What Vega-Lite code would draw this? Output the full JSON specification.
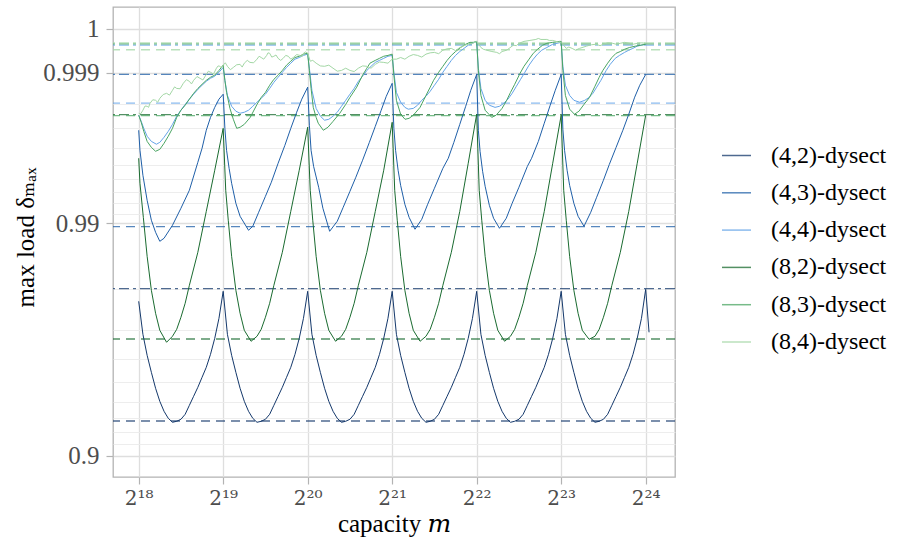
{
"$schema": "https://vega.github.io/schema/vega-lite/v6.json",
"width": 562, "height": 470,
"autosize": {"type": "none"},
"padding": {"left": 113, "top": 7, "right": 232, "bottom": 66},
"background": "white",
"config": {"font": "'Liberation Serif', 'DejaVu Serif'", "view": {"stroke": "#b3b3b3", "strokeWidth": 1.3}},
"datasets": {
"refs": [
{"series":"(4,2)-dysect","kind":"min","load":0.92782},{"series":"(4,2)-dysect","kind":"max","load":0.98009},
{"series":"(4,3)-dysect","kind":"min","load":0.98962},{"series":"(4,3)-dysect","kind":"max","load":0.99895},
{"series":"(4,4)-dysect","kind":"min","load":0.99803},{"series":"(4,4)-dysect","kind":"max","load":0.99967},
{"series":"(8,2)-dysect","kind":"min","load":0.96714},{"series":"(8,2)-dysect","kind":"max","load":0.99758},
{"series":"(8,3)-dysect","kind":"min","load":0.99754},{"series":"(8,3)-dysect","kind":"max","load":0.99970},
{"series":"(8,4)-dysect","kind":"min","load":0.99957},{"series":"(8,4)-dysect","kind":"max","load":0.99972}
],
"curves": [
{"series":"(4,2)-dysect","log2m":18,"load":0.97736},{"series":"(4,2)-dysect","log2m":18.05,"load":0.96861},{"series":"(4,2)-dysect","log2m":18.1,"load":0.96149},{"series":"(4,2)-dysect","log2m":18.15,"load":0.95462},{"series":"(4,2)-dysect","log2m":18.2,"load":0.94711},{"series":"(4,2)-dysect","log2m":18.25,"load":0.94012},{"series":"(4,2)-dysect","log2m":18.3,"load":0.93416},{"series":"(4,2)-dysect","log2m":18.35,"load":0.92965},{"series":"(4,2)-dysect","log2m":18.4,"load":0.92693},{"series":"(4,2)-dysect","log2m":18.45,"load":0.92763},{"series":"(4,2)-dysect","log2m":18.5,"load":0.92898},{"series":"(4,2)-dysect","log2m":18.55,"load":0.93226},{"series":"(4,2)-dysect","log2m":18.6,"load":0.9378},{"series":"(4,2)-dysect","log2m":18.65,"load":0.94291},{"series":"(4,2)-dysect","log2m":18.7,"load":0.94761},{"series":"(4,2)-dysect","log2m":18.75,"load":0.95239},{"series":"(4,2)-dysect","log2m":18.8,"load":0.95676},{"series":"(4,2)-dysect","log2m":18.85,"load":0.96186},{"series":"(4,2)-dysect","log2m":18.9,"load":0.96736},{"series":"(4,2)-dysect","log2m":18.95,"load":0.97318},
{"series":"(4,2)-dysect","log2m":19,"load":0.97953},{"series":"(4,2)-dysect","log2m":19.05,"load":0.96861},{"series":"(4,2)-dysect","log2m":19.1,"load":0.96149},{"series":"(4,2)-dysect","log2m":19.15,"load":0.95462},{"series":"(4,2)-dysect","log2m":19.2,"load":0.94711},{"series":"(4,2)-dysect","log2m":19.25,"load":0.94012},{"series":"(4,2)-dysect","log2m":19.3,"load":0.93416},{"series":"(4,2)-dysect","log2m":19.35,"load":0.92965},{"series":"(4,2)-dysect","log2m":19.4,"load":0.92693},{"series":"(4,2)-dysect","log2m":19.45,"load":0.92763},{"series":"(4,2)-dysect","log2m":19.5,"load":0.92898},{"series":"(4,2)-dysect","log2m":19.55,"load":0.93226},{"series":"(4,2)-dysect","log2m":19.6,"load":0.9378},{"series":"(4,2)-dysect","log2m":19.65,"load":0.94291},{"series":"(4,2)-dysect","log2m":19.7,"load":0.94761},{"series":"(4,2)-dysect","log2m":19.75,"load":0.95239},{"series":"(4,2)-dysect","log2m":19.8,"load":0.95676},{"series":"(4,2)-dysect","log2m":19.85,"load":0.96186},{"series":"(4,2)-dysect","log2m":19.9,"load":0.96736},{"series":"(4,2)-dysect","log2m":19.95,"load":0.97318},
{"series":"(4,2)-dysect","log2m":20,"load":0.97953},{"series":"(4,2)-dysect","log2m":20.05,"load":0.96861},{"series":"(4,2)-dysect","log2m":20.1,"load":0.96149},{"series":"(4,2)-dysect","log2m":20.15,"load":0.95462},{"series":"(4,2)-dysect","log2m":20.2,"load":0.94711},{"series":"(4,2)-dysect","log2m":20.25,"load":0.94012},{"series":"(4,2)-dysect","log2m":20.3,"load":0.93416},{"series":"(4,2)-dysect","log2m":20.35,"load":0.92965},{"series":"(4,2)-dysect","log2m":20.4,"load":0.92693},{"series":"(4,2)-dysect","log2m":20.45,"load":0.92763},{"series":"(4,2)-dysect","log2m":20.5,"load":0.92898},{"series":"(4,2)-dysect","log2m":20.55,"load":0.93226},{"series":"(4,2)-dysect","log2m":20.6,"load":0.9378},{"series":"(4,2)-dysect","log2m":20.65,"load":0.94291},{"series":"(4,2)-dysect","log2m":20.7,"load":0.94761},{"series":"(4,2)-dysect","log2m":20.75,"load":0.95239},{"series":"(4,2)-dysect","log2m":20.8,"load":0.95676},{"series":"(4,2)-dysect","log2m":20.85,"load":0.96186},{"series":"(4,2)-dysect","log2m":20.9,"load":0.96736},{"series":"(4,2)-dysect","log2m":20.95,"load":0.97318},
{"series":"(4,2)-dysect","log2m":21,"load":0.97953},{"series":"(4,2)-dysect","log2m":21.05,"load":0.96861},{"series":"(4,2)-dysect","log2m":21.1,"load":0.96149},{"series":"(4,2)-dysect","log2m":21.15,"load":0.95462},{"series":"(4,2)-dysect","log2m":21.2,"load":0.94711},{"series":"(4,2)-dysect","log2m":21.25,"load":0.94012},{"series":"(4,2)-dysect","log2m":21.3,"load":0.93416},{"series":"(4,2)-dysect","log2m":21.35,"load":0.92965},{"series":"(4,2)-dysect","log2m":21.4,"load":0.92693},{"series":"(4,2)-dysect","log2m":21.45,"load":0.92763},{"series":"(4,2)-dysect","log2m":21.5,"load":0.92898},{"series":"(4,2)-dysect","log2m":21.55,"load":0.93226},{"series":"(4,2)-dysect","log2m":21.6,"load":0.9378},{"series":"(4,2)-dysect","log2m":21.65,"load":0.94291},{"series":"(4,2)-dysect","log2m":21.7,"load":0.94761},{"series":"(4,2)-dysect","log2m":21.75,"load":0.95239},{"series":"(4,2)-dysect","log2m":21.8,"load":0.95676},{"series":"(4,2)-dysect","log2m":21.85,"load":0.96186},{"series":"(4,2)-dysect","log2m":21.9,"load":0.96736},{"series":"(4,2)-dysect","log2m":21.95,"load":0.97318},
{"series":"(4,2)-dysect","log2m":22,"load":0.97953},{"series":"(4,2)-dysect","log2m":22.05,"load":0.96861},{"series":"(4,2)-dysect","log2m":22.1,"load":0.96149},{"series":"(4,2)-dysect","log2m":22.15,"load":0.95462},{"series":"(4,2)-dysect","log2m":22.2,"load":0.94711},{"series":"(4,2)-dysect","log2m":22.25,"load":0.94012},{"series":"(4,2)-dysect","log2m":22.3,"load":0.93416},{"series":"(4,2)-dysect","log2m":22.35,"load":0.92965},{"series":"(4,2)-dysect","log2m":22.4,"load":0.92693},{"series":"(4,2)-dysect","log2m":22.45,"load":0.92763},{"series":"(4,2)-dysect","log2m":22.5,"load":0.92898},{"series":"(4,2)-dysect","log2m":22.55,"load":0.93226},{"series":"(4,2)-dysect","log2m":22.6,"load":0.9378},{"series":"(4,2)-dysect","log2m":22.65,"load":0.94291},{"series":"(4,2)-dysect","log2m":22.7,"load":0.94761},{"series":"(4,2)-dysect","log2m":22.75,"load":0.95239},{"series":"(4,2)-dysect","log2m":22.8,"load":0.95676},{"series":"(4,2)-dysect","log2m":22.85,"load":0.96186},{"series":"(4,2)-dysect","log2m":22.9,"load":0.96736},{"series":"(4,2)-dysect","log2m":22.95,"load":0.97318},
{"series":"(4,2)-dysect","log2m":23,"load":0.97953},{"series":"(4,2)-dysect","log2m":23.05,"load":0.96861},{"series":"(4,2)-dysect","log2m":23.1,"load":0.96149},{"series":"(4,2)-dysect","log2m":23.15,"load":0.95462},{"series":"(4,2)-dysect","log2m":23.2,"load":0.94711},{"series":"(4,2)-dysect","log2m":23.25,"load":0.94012},{"series":"(4,2)-dysect","log2m":23.3,"load":0.93416},{"series":"(4,2)-dysect","log2m":23.35,"load":0.92965},{"series":"(4,2)-dysect","log2m":23.4,"load":0.92693},{"series":"(4,2)-dysect","log2m":23.45,"load":0.92763},{"series":"(4,2)-dysect","log2m":23.5,"load":0.92898},{"series":"(4,2)-dysect","log2m":23.55,"load":0.93226},{"series":"(4,2)-dysect","log2m":23.6,"load":0.9378},{"series":"(4,2)-dysect","log2m":23.65,"load":0.94291},{"series":"(4,2)-dysect","log2m":23.7,"load":0.94761},{"series":"(4,2)-dysect","log2m":23.75,"load":0.95239},{"series":"(4,2)-dysect","log2m":23.8,"load":0.95676},{"series":"(4,2)-dysect","log2m":23.85,"load":0.96186},{"series":"(4,2)-dysect","log2m":23.9,"load":0.96736},{"series":"(4,2)-dysect","log2m":23.95,"load":0.97318},
{"series":"(4,2)-dysect","log2m":24,"load":0.97994},{"series":"(4,2)-dysect","log2m":24.04,"load":0.96922},

{"series":"(4,3)-dysect","log2m":18,"load":0.9969},{"series":"(4,3)-dysect","log2m":18.015,"load":0.99587},{"series":"(4,3)-dysect","log2m":18.05,"load":0.99428},{"series":"(4,3)-dysect","log2m":18.1,"load":0.99228},{"series":"(4,3)-dysect","log2m":18.15,"load":0.99032},{"series":"(4,3)-dysect","log2m":18.2,"load":0.98895},{"series":"(4,3)-dysect","log2m":18.25,"load":0.98782},{"series":"(4,3)-dysect","log2m":18.3,"load":0.98821},{"series":"(4,3)-dysect","log2m":18.4,"load":0.98977},{"series":"(4,3)-dysect","log2m":18.5,"load":0.99154},{"series":"(4,3)-dysect","log2m":18.6,"load":0.99314},{"series":"(4,3)-dysect","log2m":18.7,"load":0.99515},{"series":"(4,3)-dysect","log2m":18.75,"load":0.99598},{"series":"(4,3)-dysect","log2m":18.8,"load":0.9969},{"series":"(4,3)-dysect","log2m":18.85,"load":0.99747},{"series":"(4,3)-dysect","log2m":18.9,"load":0.99787},{"series":"(4,3)-dysect","log2m":18.95,"load":0.99817},{"series":"(4,3)-dysect","log2m":19,"load":0.99834},
{"series":"(4,3)-dysect","log2m":19.02,"load":0.99699},{"series":"(4,3)-dysect","log2m":19.04,"load":0.99587},{"series":"(4,3)-dysect","log2m":19.07,"load":0.99476},{"series":"(4,3)-dysect","log2m":19.1,"load":0.99369},{"series":"(4,3)-dysect","log2m":19.15,"load":0.99201},{"series":"(4,3)-dysect","log2m":19.2,"load":0.99074},{"series":"(4,3)-dysect","log2m":19.3,"load":0.98919},{"series":"(4,3)-dysect","log2m":19.35,"load":0.98965},{"series":"(4,3)-dysect","log2m":19.42,"load":0.99115},{"series":"(4,3)-dysect","log2m":19.5,"load":0.99263},{"series":"(4,3)-dysect","log2m":19.57,"load":0.99377},{"series":"(4,3)-dysect","log2m":19.65,"load":0.99509},{"series":"(4,3)-dysect","log2m":19.73,"load":0.99614},{"series":"(4,3)-dysect","log2m":19.8,"load":0.99699},{"series":"(4,3)-dysect","log2m":19.87,"load":0.99768},{"series":"(4,3)-dysect","log2m":19.93,"load":0.99817},{"series":"(4,3)-dysect","log2m":20,"load":0.99857},
{"series":"(4,3)-dysect","log2m":20.02,"load":0.99713},{"series":"(4,3)-dysect","log2m":20.04,"load":0.99587},{"series":"(4,3)-dysect","log2m":20.07,"load":0.99489},{"series":"(4,3)-dysect","log2m":20.13,"load":0.99338},{"series":"(4,3)-dysect","log2m":20.18,"load":0.99154},{"series":"(4,3)-dysect","log2m":20.26,"load":0.98907},{"series":"(4,3)-dysect","log2m":20.35,"load":0.99021},{"series":"(4,3)-dysect","log2m":20.42,"load":0.99163},{"series":"(4,3)-dysect","log2m":20.5,"load":0.99305},{"series":"(4,3)-dysect","log2m":20.57,"load":0.99414},{"series":"(4,3)-dysect","log2m":20.65,"load":0.99528},{"series":"(4,3)-dysect","log2m":20.73,"load":0.9963},{"series":"(4,3)-dysect","log2m":20.8,"load":0.99708},{"series":"(4,3)-dysect","log2m":20.87,"load":0.99776},{"series":"(4,3)-dysect","log2m":20.93,"load":0.99827},{"series":"(4,3)-dysect","log2m":21,"load":0.99869},
{"series":"(4,3)-dysect","log2m":21.02,"load":0.99699},{"series":"(4,3)-dysect","log2m":21.04,"load":0.99587},{"series":"(4,3)-dysect","log2m":21.07,"load":0.99463},{"series":"(4,3)-dysect","log2m":21.1,"load":0.99353},{"series":"(4,3)-dysect","log2m":21.15,"load":0.99192},{"series":"(4,3)-dysect","log2m":21.2,"load":0.99063},{"series":"(4,3)-dysect","log2m":21.27,"load":0.98931},{"series":"(4,3)-dysect","log2m":21.35,"load":0.99042},{"series":"(4,3)-dysect","log2m":21.42,"load":0.99192},{"series":"(4,3)-dysect","log2m":21.5,"load":0.9933},{"series":"(4,3)-dysect","log2m":21.6,"load":0.99476},{"series":"(4,3)-dysect","log2m":21.664,"load":0.9954},{"series":"(4,3)-dysect","log2m":21.73,"load":0.9963},{"series":"(4,3)-dysect","log2m":21.8,"load":0.99717},{"series":"(4,3)-dysect","log2m":21.87,"load":0.99791},{"series":"(4,3)-dysect","log2m":21.93,"load":0.99847},{"series":"(4,3)-dysect","log2m":22,"load":0.99895},
{"series":"(4,3)-dysect","log2m":22.02,"load":0.9969},{"series":"(4,3)-dysect","log2m":22.04,"load":0.99581},{"series":"(4,3)-dysect","log2m":22.07,"load":0.99456},{"series":"(4,3)-dysect","log2m":22.1,"load":0.99346},{"series":"(4,3)-dysect","log2m":22.15,"load":0.99182},{"series":"(4,3)-dysect","log2m":22.2,"load":0.99053},{"series":"(4,3)-dysect","log2m":22.27,"load":0.98942},{"series":"(4,3)-dysect","log2m":22.35,"load":0.99053},{"series":"(4,3)-dysect","log2m":22.42,"load":0.99201},{"series":"(4,3)-dysect","log2m":22.5,"load":0.99338},{"series":"(4,3)-dysect","log2m":22.6,"load":0.99489},{"series":"(4,3)-dysect","log2m":22.65,"load":0.9954},{"series":"(4,3)-dysect","log2m":22.73,"load":0.99635},{"series":"(4,3)-dysect","log2m":22.8,"load":0.99722},{"series":"(4,3)-dysect","log2m":22.87,"load":0.99795},{"series":"(4,3)-dysect","log2m":22.93,"load":0.99847},{"series":"(4,3)-dysect","log2m":23,"load":0.99895},
{"series":"(4,3)-dysect","log2m":23.02,"load":0.99695},{"series":"(4,3)-dysect","log2m":23.04,"load":0.99587},{"series":"(4,3)-dysect","log2m":23.07,"load":0.99463},{"series":"(4,3)-dysect","log2m":23.1,"load":0.99353},{"series":"(4,3)-dysect","log2m":23.15,"load":0.99201},{"series":"(4,3)-dysect","log2m":23.2,"load":0.99074},{"series":"(4,3)-dysect","log2m":23.27,"load":0.98965},{"series":"(4,3)-dysect","log2m":23.35,"load":0.99115},{"series":"(4,3)-dysect","log2m":23.42,"load":0.99255},{"series":"(4,3)-dysect","log2m":23.5,"load":0.99392},{"series":"(4,3)-dysect","log2m":23.57,"load":0.99502},{"series":"(4,3)-dysect","log2m":23.65,"load":0.99603},{"series":"(4,3)-dysect","log2m":23.73,"load":0.9969},{"series":"(4,3)-dysect","log2m":23.8,"load":0.9976},{"series":"(4,3)-dysect","log2m":23.87,"load":0.99824},{"series":"(4,3)-dysect","log2m":23.93,"load":0.99863},{"series":"(4,3)-dysect","log2m":24,"load":0.99895},

{"series":"(4,4)-dysect","log2m":18,"load":0.99756},{"series":"(4,4)-dysect","log2m":18.03,"load":0.9973},{"series":"(4,4)-dysect","log2m":18.06,"load":0.99699},{"series":"(4,4)-dysect","log2m":18.1,"load":0.99661},{"series":"(4,4)-dysect","log2m":18.15,"load":0.99635},{"series":"(4,4)-dysect","log2m":18.21,"load":0.9962},{"series":"(4,4)-dysect","log2m":18.25,"load":0.9963},{"series":"(4,4)-dysect","log2m":18.3,"load":0.99656},{"series":"(4,4)-dysect","log2m":18.35,"load":0.99685},{"series":"(4,4)-dysect","log2m":18.4,"load":0.99717},{"series":"(4,4)-dysect","log2m":18.45,"load":0.99752},{"series":"(4,4)-dysect","log2m":18.5,"load":0.99776},{"series":"(4,4)-dysect","log2m":18.55,"load":0.99798},{"series":"(4,4)-dysect","log2m":18.6,"load":0.99817},{"series":"(4,4)-dysect","log2m":18.65,"load":0.99834},{"series":"(4,4)-dysect","log2m":18.7,"load":0.9985},{"series":"(4,4)-dysect","log2m":18.75,"load":0.99863},{"series":"(4,4)-dysect","log2m":18.8,"load":0.99875},{"series":"(4,4)-dysect","log2m":18.85,"load":0.99884},{"series":"(4,4)-dysect","log2m":18.9,"load":0.9989},{"series":"(4,4)-dysect","log2m":18.95,"load":0.99901},{"series":"(4,4)-dysect","log2m":19,"load":0.99914},
{"series":"(4,4)-dysect","log2m":19.02,"load":0.99878},{"series":"(4,4)-dysect","log2m":19.05,"load":0.9983},{"series":"(4,4)-dysect","log2m":19.1,"load":0.99791},{"series":"(4,4)-dysect","log2m":19.15,"load":0.99772},{"series":"(4,4)-dysect","log2m":19.2,"load":0.99764},{"series":"(4,4)-dysect","log2m":19.25,"load":0.99768},{"series":"(4,4)-dysect","log2m":19.3,"load":0.99776},{"series":"(4,4)-dysect","log2m":19.35,"load":0.99791},{"series":"(4,4)-dysect","log2m":19.4,"load":0.99806},{"series":"(4,4)-dysect","log2m":19.45,"load":0.9982},{"series":"(4,4)-dysect","log2m":19.5,"load":0.99834},{"series":"(4,4)-dysect","log2m":19.55,"load":0.99853},{"series":"(4,4)-dysect","log2m":19.6,"load":0.99872},{"series":"(4,4)-dysect","log2m":19.65,"load":0.99887},{"series":"(4,4)-dysect","log2m":19.7,"load":0.99901},{"series":"(4,4)-dysect","log2m":19.75,"load":0.99914},{"series":"(4,4)-dysect","log2m":19.8,"load":0.99925},{"series":"(4,4)-dysect","log2m":19.85,"load":0.99935},{"series":"(4,4)-dysect","log2m":19.9,"load":0.99939},{"series":"(4,4)-dysect","log2m":19.95,"load":0.99944},{"series":"(4,4)-dysect","log2m":20,"load":0.99947},
{"series":"(4,4)-dysect","log2m":20.02,"load":0.99912},{"series":"(4,4)-dysect","log2m":20.05,"load":0.99847},{"series":"(4,4)-dysect","log2m":20.1,"load":0.99783},{"series":"(4,4)-dysect","log2m":20.15,"load":0.99752},{"series":"(4,4)-dysect","log2m":20.2,"load":0.99735},{"series":"(4,4)-dysect","log2m":20.25,"load":0.99739},{"series":"(4,4)-dysect","log2m":20.3,"load":0.99752},{"series":"(4,4)-dysect","log2m":20.35,"load":0.99768},{"series":"(4,4)-dysect","log2m":20.4,"load":0.99791},{"series":"(4,4)-dysect","log2m":20.45,"load":0.99813},{"series":"(4,4)-dysect","log2m":20.5,"load":0.99834},{"series":"(4,4)-dysect","log2m":20.55,"load":0.99853},{"series":"(4,4)-dysect","log2m":20.6,"load":0.99875},{"series":"(4,4)-dysect","log2m":20.65,"load":0.9989},{"series":"(4,4)-dysect","log2m":20.7,"load":0.99906},{"series":"(4,4)-dysect","log2m":20.75,"load":0.99917},{"series":"(4,4)-dysect","log2m":20.8,"load":0.99927},{"series":"(4,4)-dysect","log2m":20.85,"load":0.99932},{"series":"(4,4)-dysect","log2m":20.9,"load":0.99937},{"series":"(4,4)-dysect","log2m":20.95,"load":0.99942},{"series":"(4,4)-dysect","log2m":21,"load":0.99944},
{"series":"(4,4)-dysect","log2m":21.02,"load":0.99901},{"series":"(4,4)-dysect","log2m":21.05,"load":0.9984},{"series":"(4,4)-dysect","log2m":21.1,"load":0.99806},{"series":"(4,4)-dysect","log2m":21.15,"load":0.99787},{"series":"(4,4)-dysect","log2m":21.19,"load":0.9978},{"series":"(4,4)-dysect","log2m":21.25,"load":0.99783},{"series":"(4,4)-dysect","log2m":21.3,"load":0.99795},{"series":"(4,4)-dysect","log2m":21.35,"load":0.99813},{"series":"(4,4)-dysect","log2m":21.4,"load":0.99827},{"series":"(4,4)-dysect","log2m":21.45,"load":0.99844},{"series":"(4,4)-dysect","log2m":21.5,"load":0.99863},{"series":"(4,4)-dysect","log2m":21.55,"load":0.99881},{"series":"(4,4)-dysect","log2m":21.6,"load":0.99901},{"series":"(4,4)-dysect","log2m":21.65,"load":0.99917},{"series":"(4,4)-dysect","log2m":21.7,"load":0.99932},{"series":"(4,4)-dysect","log2m":21.75,"load":0.99944},{"series":"(4,4)-dysect","log2m":21.8,"load":0.99953},{"series":"(4,4)-dysect","log2m":21.85,"load":0.9996},{"series":"(4,4)-dysect","log2m":21.9,"load":0.99967},{"series":"(4,4)-dysect","log2m":21.95,"load":0.99971},{"series":"(4,4)-dysect","log2m":22,"load":0.99975},
{"series":"(4,4)-dysect","log2m":22.02,"load":0.99912},{"series":"(4,4)-dysect","log2m":22.05,"load":0.99853},{"series":"(4,4)-dysect","log2m":22.1,"load":0.99813},{"series":"(4,4)-dysect","log2m":22.15,"load":0.99795},{"series":"(4,4)-dysect","log2m":22.217,"load":0.99787},{"series":"(4,4)-dysect","log2m":22.27,"load":0.99791},{"series":"(4,4)-dysect","log2m":22.32,"load":0.99802},{"series":"(4,4)-dysect","log2m":22.37,"load":0.99817},{"series":"(4,4)-dysect","log2m":22.42,"load":0.99837},{"series":"(4,4)-dysect","log2m":22.47,"load":0.9986},{"series":"(4,4)-dysect","log2m":22.52,"load":0.99881},{"series":"(4,4)-dysect","log2m":22.57,"load":0.99901},{"series":"(4,4)-dysect","log2m":22.62,"load":0.9992},{"series":"(4,4)-dysect","log2m":22.67,"load":0.99935},{"series":"(4,4)-dysect","log2m":22.72,"load":0.99947},{"series":"(4,4)-dysect","log2m":22.77,"load":0.99956},{"series":"(4,4)-dysect","log2m":22.83,"load":0.99962},{"series":"(4,4)-dysect","log2m":22.9,"load":0.99969},{"series":"(4,4)-dysect","log2m":22.95,"load":0.99971},{"series":"(4,4)-dysect","log2m":23,"load":0.99973},
{"series":"(4,4)-dysect","log2m":23.02,"load":0.99917},{"series":"(4,4)-dysect","log2m":23.05,"load":0.99863},{"series":"(4,4)-dysect","log2m":23.1,"load":0.9983},{"series":"(4,4)-dysect","log2m":23.15,"load":0.99813},{"series":"(4,4)-dysect","log2m":23.217,"load":0.99806},{"series":"(4,4)-dysect","log2m":23.28,"load":0.99813},{"series":"(4,4)-dysect","log2m":23.33,"load":0.99823},{"series":"(4,4)-dysect","log2m":23.375,"load":0.99837},{"series":"(4,4)-dysect","log2m":23.42,"load":0.99857},{"series":"(4,4)-dysect","log2m":23.47,"load":0.99878},{"series":"(4,4)-dysect","log2m":23.533,"load":0.99906},{"series":"(4,4)-dysect","log2m":23.58,"load":0.99922},{"series":"(4,4)-dysect","log2m":23.64,"load":0.99937},{"series":"(4,4)-dysect","log2m":23.69,"load":0.99944},{"series":"(4,4)-dysect","log2m":23.75,"load":0.99951},{"series":"(4,4)-dysect","log2m":23.8,"load":0.99956},{"series":"(4,4)-dysect","log2m":23.848,"load":0.9996},{"series":"(4,4)-dysect","log2m":23.9,"load":0.99965},{"series":"(4,4)-dysect","log2m":23.95,"load":0.99967},{"series":"(4,4)-dysect","log2m":24,"load":0.99969},

{"series":"(8,2)-dysect","log2m":18,"load":0.9954},{"series":"(8,2)-dysect","log2m":18.015,"load":0.99369},{"series":"(8,2)-dysect","log2m":18.055,"load":0.99063},{"series":"(8,2)-dysect","log2m":18.1,"load":0.98572},{"series":"(8,2)-dysect","log2m":18.15,"load":0.97974},{"series":"(8,2)-dysect","log2m":18.2,"load":0.97449},{"series":"(8,2)-dysect","log2m":18.25,"load":0.96982},{"series":"(8,2)-dysect","log2m":18.33,"load":0.96607},{"series":"(8,2)-dysect","log2m":18.4,"load":0.968},{"series":"(8,2)-dysect","log2m":18.45,"load":0.97012},{"series":"(8,2)-dysect","log2m":18.5,"load":0.97346},{"series":"(8,2)-dysect","log2m":18.55,"load":0.97691},{"series":"(8,2)-dysect","log2m":18.6,"load":0.98074},{"series":"(8,2)-dysect","log2m":18.7,"load":0.98631},{"series":"(8,2)-dysect","log2m":18.8,"load":0.99124},{"series":"(8,2)-dysect","log2m":18.9,"load":0.99463},{"series":"(8,2)-dysect","log2m":19,"load":0.99699},
{"series":"(8,2)-dysect","log2m":19.03,"load":0.99314},{"series":"(8,2)-dysect","log2m":19.06,"load":0.99032},{"series":"(8,2)-dysect","log2m":19.1,"load":0.98572},{"series":"(8,2)-dysect","log2m":19.15,"load":0.97974},{"series":"(8,2)-dysect","log2m":19.2,"load":0.97449},{"series":"(8,2)-dysect","log2m":19.25,"load":0.96982},{"series":"(8,2)-dysect","log2m":19.33,"load":0.9664},{"series":"(8,2)-dysect","log2m":19.4,"load":0.968},{"series":"(8,2)-dysect","log2m":19.45,"load":0.97012},{"series":"(8,2)-dysect","log2m":19.5,"load":0.97346},{"series":"(8,2)-dysect","log2m":19.55,"load":0.97691},{"series":"(8,2)-dysect","log2m":19.6,"load":0.98074},{"series":"(8,2)-dysect","log2m":19.7,"load":0.98631},{"series":"(8,2)-dysect","log2m":19.8,"load":0.99124},{"series":"(8,2)-dysect","log2m":19.9,"load":0.99463},{"series":"(8,2)-dysect","log2m":20,"load":0.99704},
{"series":"(8,2)-dysect","log2m":20.03,"load":0.99314},{"series":"(8,2)-dysect","log2m":20.06,"load":0.99032},{"series":"(8,2)-dysect","log2m":20.1,"load":0.98572},{"series":"(8,2)-dysect","log2m":20.15,"load":0.97974},{"series":"(8,2)-dysect","log2m":20.2,"load":0.97449},{"series":"(8,2)-dysect","log2m":20.25,"load":0.96982},{"series":"(8,2)-dysect","log2m":20.33,"load":0.9664},{"series":"(8,2)-dysect","log2m":20.4,"load":0.968},{"series":"(8,2)-dysect","log2m":20.45,"load":0.97012},{"series":"(8,2)-dysect","log2m":20.5,"load":0.97346},{"series":"(8,2)-dysect","log2m":20.55,"load":0.97691},{"series":"(8,2)-dysect","log2m":20.6,"load":0.98074},{"series":"(8,2)-dysect","log2m":20.7,"load":0.98631},{"series":"(8,2)-dysect","log2m":20.8,"load":0.99124},{"series":"(8,2)-dysect","log2m":20.9,"load":0.99463},{"series":"(8,2)-dysect","log2m":21,"load":0.99726},
{"series":"(8,2)-dysect","log2m":21.03,"load":0.99314},{"series":"(8,2)-dysect","log2m":21.06,"load":0.99032},{"series":"(8,2)-dysect","log2m":21.1,"load":0.98572},{"series":"(8,2)-dysect","log2m":21.15,"load":0.97974},{"series":"(8,2)-dysect","log2m":21.2,"load":0.97449},{"series":"(8,2)-dysect","log2m":21.25,"load":0.96982},{"series":"(8,2)-dysect","log2m":21.33,"load":0.9664},{"series":"(8,2)-dysect","log2m":21.4,"load":0.968},{"series":"(8,2)-dysect","log2m":21.45,"load":0.97012},{"series":"(8,2)-dysect","log2m":21.5,"load":0.97346},{"series":"(8,2)-dysect","log2m":21.55,"load":0.97691},{"series":"(8,2)-dysect","log2m":21.6,"load":0.98074},{"series":"(8,2)-dysect","log2m":21.7,"load":0.98631},{"series":"(8,2)-dysect","log2m":21.8,"load":0.99124},{"series":"(8,2)-dysect","log2m":21.9,"load":0.99509},{"series":"(8,2)-dysect","log2m":22,"load":0.9976},
{"series":"(8,2)-dysect","log2m":22.03,"load":0.99314},{"series":"(8,2)-dysect","log2m":22.06,"load":0.99032},{"series":"(8,2)-dysect","log2m":22.1,"load":0.98572},{"series":"(8,2)-dysect","log2m":22.15,"load":0.97974},{"series":"(8,2)-dysect","log2m":22.2,"load":0.97449},{"series":"(8,2)-dysect","log2m":22.25,"load":0.96982},{"series":"(8,2)-dysect","log2m":22.33,"load":0.9664},{"series":"(8,2)-dysect","log2m":22.4,"load":0.968},{"series":"(8,2)-dysect","log2m":22.45,"load":0.97012},{"series":"(8,2)-dysect","log2m":22.5,"load":0.97346},{"series":"(8,2)-dysect","log2m":22.55,"load":0.97691},{"series":"(8,2)-dysect","log2m":22.6,"load":0.98074},{"series":"(8,2)-dysect","log2m":22.7,"load":0.98631},{"series":"(8,2)-dysect","log2m":22.8,"load":0.99124},{"series":"(8,2)-dysect","log2m":22.9,"load":0.99509},{"series":"(8,2)-dysect","log2m":23,"load":0.99756},
{"series":"(8,2)-dysect","log2m":23.03,"load":0.99314},{"series":"(8,2)-dysect","log2m":23.06,"load":0.99032},{"series":"(8,2)-dysect","log2m":23.1,"load":0.98572},{"series":"(8,2)-dysect","log2m":23.15,"load":0.97974},{"series":"(8,2)-dysect","log2m":23.2,"load":0.97449},{"series":"(8,2)-dysect","log2m":23.25,"load":0.96982},{"series":"(8,2)-dysect","log2m":23.33,"load":0.96704},{"series":"(8,2)-dysect","log2m":23.4,"load":0.968},{"series":"(8,2)-dysect","log2m":23.45,"load":0.97012},{"series":"(8,2)-dysect","log2m":23.5,"load":0.97346},{"series":"(8,2)-dysect","log2m":23.55,"load":0.97691},{"series":"(8,2)-dysect","log2m":23.6,"load":0.98074},{"series":"(8,2)-dysect","log2m":23.7,"load":0.98631},{"series":"(8,2)-dysect","log2m":23.8,"load":0.99124},{"series":"(8,2)-dysect","log2m":23.9,"load":0.99509},{"series":"(8,2)-dysect","log2m":24,"load":0.99756},

{"series":"(8,3)-dysect","log2m":18,"load":0.99756},{"series":"(8,3)-dysect","log2m":18.03,"load":0.99726},{"series":"(8,3)-dysect","log2m":18.06,"load":0.99685},{"series":"(8,3)-dysect","log2m":18.1,"load":0.99635},{"series":"(8,3)-dysect","log2m":18.15,"load":0.99603},{"series":"(8,3)-dysect","log2m":18.2,"load":0.99581},{"series":"(8,3)-dysect","log2m":18.25,"load":0.99592},{"series":"(8,3)-dysect","log2m":18.3,"load":0.99625},{"series":"(8,3)-dysect","log2m":18.35,"load":0.99661},{"series":"(8,3)-dysect","log2m":18.4,"load":0.99699},{"series":"(8,3)-dysect","log2m":18.45,"load":0.99747},{"series":"(8,3)-dysect","log2m":18.5,"load":0.99776},{"series":"(8,3)-dysect","log2m":18.55,"load":0.99795},{"series":"(8,3)-dysect","log2m":18.6,"load":0.99817},{"series":"(8,3)-dysect","log2m":18.65,"load":0.99837},{"series":"(8,3)-dysect","log2m":18.7,"load":0.99853},{"series":"(8,3)-dysect","log2m":18.75,"load":0.99866},{"series":"(8,3)-dysect","log2m":18.8,"load":0.99878},{"series":"(8,3)-dysect","log2m":18.85,"load":0.99887},{"series":"(8,3)-dysect","log2m":18.9,"load":0.99893},{"series":"(8,3)-dysect","log2m":18.95,"load":0.99906},{"series":"(8,3)-dysect","log2m":19,"load":0.9992},
{"series":"(8,3)-dysect","log2m":19.02,"load":0.99878},{"series":"(8,3)-dysect","log2m":19.04,"load":0.9984},{"series":"(8,3)-dysect","log2m":19.08,"load":0.99783},{"series":"(8,3)-dysect","log2m":19.12,"load":0.99739},{"series":"(8,3)-dysect","log2m":19.16,"load":0.99699},{"series":"(8,3)-dysect","log2m":19.2,"load":0.99704},{"series":"(8,3)-dysect","log2m":19.25,"load":0.99717},{"series":"(8,3)-dysect","log2m":19.32,"load":0.99747},{"series":"(8,3)-dysect","log2m":19.4,"load":0.99798},{"series":"(8,3)-dysect","log2m":19.45,"load":0.99823},{"series":"(8,3)-dysect","log2m":19.5,"load":0.9984},{"series":"(8,3)-dysect","log2m":19.55,"load":0.99863},{"series":"(8,3)-dysect","log2m":19.6,"load":0.99881},{"series":"(8,3)-dysect","log2m":19.65,"load":0.99893},{"series":"(8,3)-dysect","log2m":19.7,"load":0.99906},{"series":"(8,3)-dysect","log2m":19.75,"load":0.9992},{"series":"(8,3)-dysect","log2m":19.8,"load":0.9993},{"series":"(8,3)-dysect","log2m":19.85,"load":0.99939},{"series":"(8,3)-dysect","log2m":19.9,"load":0.99942},{"series":"(8,3)-dysect","log2m":19.95,"load":0.99947},{"series":"(8,3)-dysect","log2m":20,"load":0.99949},
{"series":"(8,3)-dysect","log2m":20.02,"load":0.99906},{"series":"(8,3)-dysect","log2m":20.04,"load":0.99853},{"series":"(8,3)-dysect","log2m":20.066,"load":0.99787},{"series":"(8,3)-dysect","log2m":20.1,"load":0.99747},{"series":"(8,3)-dysect","log2m":20.125,"load":0.99722},{"series":"(8,3)-dysect","log2m":20.185,"load":0.9969},{"series":"(8,3)-dysect","log2m":20.24,"load":0.99704},{"series":"(8,3)-dysect","log2m":20.3,"load":0.9973},{"series":"(8,3)-dysect","log2m":20.38,"load":0.99764},{"series":"(8,3)-dysect","log2m":20.45,"load":0.99798},{"series":"(8,3)-dysect","log2m":20.5,"load":0.99823},{"series":"(8,3)-dysect","log2m":20.58,"load":0.99857},{"series":"(8,3)-dysect","log2m":20.65,"load":0.99893},{"series":"(8,3)-dysect","log2m":20.7,"load":0.99912},{"series":"(8,3)-dysect","log2m":20.737,"load":0.99925},{"series":"(8,3)-dysect","log2m":20.8,"load":0.99932},{"series":"(8,3)-dysect","log2m":20.85,"load":0.99937},{"series":"(8,3)-dysect","log2m":20.9,"load":0.99942},{"series":"(8,3)-dysect","log2m":20.95,"load":0.99944},{"series":"(8,3)-dysect","log2m":21,"load":0.99947},
{"series":"(8,3)-dysect","log2m":21.02,"load":0.99893},{"series":"(8,3)-dysect","log2m":21.05,"load":0.99813},{"series":"(8,3)-dysect","log2m":21.1,"load":0.9976},{"series":"(8,3)-dysect","log2m":21.152,"load":0.99739},{"series":"(8,3)-dysect","log2m":21.2,"load":0.99743},{"series":"(8,3)-dysect","log2m":21.25,"load":0.99756},{"series":"(8,3)-dysect","log2m":21.33,"load":0.99787},{"series":"(8,3)-dysect","log2m":21.4,"load":0.9983},{"series":"(8,3)-dysect","log2m":21.45,"load":0.99857},{"series":"(8,3)-dysect","log2m":21.49,"load":0.99878},{"series":"(8,3)-dysect","log2m":21.55,"load":0.99901},{"series":"(8,3)-dysect","log2m":21.6,"load":0.99917},{"series":"(8,3)-dysect","log2m":21.65,"load":0.99932},{"series":"(8,3)-dysect","log2m":21.7,"load":0.99944},{"series":"(8,3)-dysect","log2m":21.75,"load":0.99953},{"series":"(8,3)-dysect","log2m":21.81,"load":0.99962},{"series":"(8,3)-dysect","log2m":21.87,"load":0.99969},{"series":"(8,3)-dysect","log2m":21.92,"load":0.99973},{"series":"(8,3)-dysect","log2m":21.96,"load":0.99973},{"series":"(8,3)-dysect","log2m":22,"load":0.99975},
{"series":"(8,3)-dysect","log2m":22.02,"load":0.99906},{"series":"(8,3)-dysect","log2m":22.05,"load":0.9983},{"series":"(8,3)-dysect","log2m":22.1,"load":0.99776},{"series":"(8,3)-dysect","log2m":22.178,"load":0.99747},{"series":"(8,3)-dysect","log2m":22.23,"load":0.99756},{"series":"(8,3)-dysect","log2m":22.3,"load":0.99783},{"series":"(8,3)-dysect","log2m":22.355,"load":0.99813},{"series":"(8,3)-dysect","log2m":22.4,"load":0.9984},{"series":"(8,3)-dysect","log2m":22.45,"load":0.99866},{"series":"(8,3)-dysect","log2m":22.513,"load":0.99898},{"series":"(8,3)-dysect","log2m":22.56,"load":0.99917},{"series":"(8,3)-dysect","log2m":22.62,"load":0.99935},{"series":"(8,3)-dysect","log2m":22.67,"load":0.99949},{"series":"(8,3)-dysect","log2m":22.72,"load":0.99958},{"series":"(8,3)-dysect","log2m":22.78,"load":0.99967},{"series":"(8,3)-dysect","log2m":22.83,"load":0.99971},{"series":"(8,3)-dysect","log2m":22.9,"load":0.99973},{"series":"(8,3)-dysect","log2m":22.98,"load":0.99975},{"series":"(8,3)-dysect","log2m":23,"load":0.99975},
{"series":"(8,3)-dysect","log2m":23.02,"load":0.99906},{"series":"(8,3)-dysect","log2m":23.05,"load":0.9983},{"series":"(8,3)-dysect","log2m":23.1,"load":0.9978},{"series":"(8,3)-dysect","log2m":23.157,"load":0.9976},{"series":"(8,3)-dysect","log2m":23.21,"load":0.99772},{"series":"(8,3)-dysect","log2m":23.27,"load":0.99798},{"series":"(8,3)-dysect","log2m":23.335,"load":0.99823},{"series":"(8,3)-dysect","log2m":23.4,"load":0.9986},{"series":"(8,3)-dysect","log2m":23.45,"load":0.99887},{"series":"(8,3)-dysect","log2m":23.493,"load":0.99906},{"series":"(8,3)-dysect","log2m":23.55,"load":0.99925},{"series":"(8,3)-dysect","log2m":23.6,"load":0.99939},{"series":"(8,3)-dysect","log2m":23.65,"load":0.99949},{"series":"(8,3)-dysect","log2m":23.7,"load":0.99953},{"series":"(8,3)-dysect","log2m":23.75,"load":0.99958},{"series":"(8,3)-dysect","log2m":23.808,"load":0.99962},{"series":"(8,3)-dysect","log2m":23.88,"load":0.99965},{"series":"(8,3)-dysect","log2m":23.94,"load":0.99967},{"series":"(8,3)-dysect","log2m":24,"load":0.99969},

{"series":"(8,4)-dysect","log2m":18,"load":0.99764},{"series":"(8,4)-dysect","log2m":18.025,"load":0.99762},{"series":"(8,4)-dysect","log2m":18.05,"load":0.99776},{"series":"(8,4)-dysect","log2m":18.075,"load":0.99792},{"series":"(8,4)-dysect","log2m":18.1,"load":0.99791},{"series":"(8,4)-dysect","log2m":18.117,"load":0.99787},{"series":"(8,4)-dysect","log2m":18.134,"load":0.99802},{"series":"(8,4)-dysect","log2m":18.167,"load":0.99815},{"series":"(8,4)-dysect","log2m":18.2,"load":0.99813},{"series":"(8,4)-dysect","log2m":18.225,"load":0.99806},{"series":"(8,4)-dysect","log2m":18.25,"load":0.9982},{"series":"(8,4)-dysect","log2m":18.29,"load":0.99833},{"series":"(8,4)-dysect","log2m":18.33,"load":0.99837},{"series":"(8,4)-dysect","log2m":18.365,"load":0.99831},{"series":"(8,4)-dysect","log2m":18.4,"load":0.99847},{"series":"(8,4)-dysect","log2m":18.425,"load":0.99858},{"series":"(8,4)-dysect","log2m":18.45,"load":0.99853},{"series":"(8,4)-dysect","log2m":18.49,"load":0.99852},{"series":"(8,4)-dysect","log2m":18.528,"load":0.99869},{"series":"(8,4)-dysect","log2m":18.565,"load":0.9988},{"series":"(8,4)-dysect","log2m":18.6,"load":0.99875},{"series":"(8,4)-dysect","log2m":18.625,"load":0.99867},{"series":"(8,4)-dysect","log2m":18.65,"load":0.99878},{"series":"(8,4)-dysect","log2m":18.69,"load":0.99889},{"series":"(8,4)-dysect","log2m":18.725,"load":0.99884},{"series":"(8,4)-dysect","log2m":18.76,"load":0.99879},{"series":"(8,4)-dysect","log2m":18.8,"load":0.99895},{"series":"(8,4)-dysect","log2m":18.825,"load":0.99904},{"series":"(8,4)-dysect","log2m":18.85,"load":0.99901},{"series":"(8,4)-dysect","log2m":18.885,"load":0.99896},{"series":"(8,4)-dysect","log2m":18.92,"load":0.99912},{"series":"(8,4)-dysect","log2m":18.94,"load":0.99918},{"series":"(8,4)-dysect","log2m":18.96,"load":0.99917},{"series":"(8,4)-dysect","log2m":18.98,"load":0.99913},{"series":"(8,4)-dysect","log2m":19,"load":0.9992},
{"series":"(8,4)-dysect","log2m":19.025,"load":0.99926},{"series":"(8,4)-dysect","log2m":19.05,"load":0.99917},{"series":"(8,4)-dysect","log2m":19.085,"load":0.99908},{"series":"(8,4)-dysect","log2m":19.12,"load":0.99914},{"series":"(8,4)-dysect","log2m":19.16,"load":0.99921},{"series":"(8,4)-dysect","log2m":19.2,"load":0.99922},{"series":"(8,4)-dysect","log2m":19.225,"load":0.99915},{"series":"(8,4)-dysect","log2m":19.25,"load":0.99925},{"series":"(8,4)-dysect","log2m":19.285,"load":0.99932},{"series":"(8,4)-dysect","log2m":19.317,"load":0.99927},{"series":"(8,4)-dysect","log2m":19.36,"load":0.99926},{"series":"(8,4)-dysect","log2m":19.4,"load":0.99935},{"series":"(8,4)-dysect","log2m":19.425,"load":0.99942},{"series":"(8,4)-dysect","log2m":19.45,"load":0.99939},{"series":"(8,4)-dysect","log2m":19.48,"load":0.99935},{"series":"(8,4)-dysect","log2m":19.515,"load":0.99944},{"series":"(8,4)-dysect","log2m":19.53,"load":0.9995},{"series":"(8,4)-dysect","log2m":19.55,"load":0.99949},{"series":"(8,4)-dysect","log2m":19.575,"load":0.9994},{"series":"(8,4)-dysect","log2m":19.6,"load":0.99942},{"series":"(8,4)-dysect","log2m":19.625,"load":0.99945},{"series":"(8,4)-dysect","log2m":19.65,"load":0.99937},{"series":"(8,4)-dysect","log2m":19.68,"load":0.99932},{"series":"(8,4)-dysect","log2m":19.71,"load":0.99937},{"series":"(8,4)-dysect","log2m":19.74,"load":0.99944},{"series":"(8,4)-dysect","log2m":19.77,"load":0.99942},{"series":"(8,4)-dysect","log2m":19.8,"load":0.99935},{"series":"(8,4)-dysect","log2m":19.83,"load":0.99939},{"series":"(8,4)-dysect","log2m":19.87,"load":0.99946},{"series":"(8,4)-dysect","log2m":19.906,"load":0.99944},{"series":"(8,4)-dysect","log2m":19.93,"load":0.99941},{"series":"(8,4)-dysect","log2m":19.95,"load":0.99949},{"series":"(8,4)-dysect","log2m":19.975,"load":0.99952},{"series":"(8,4)-dysect","log2m":20,"load":0.99949},
{"series":"(8,4)-dysect","log2m":20.03,"load":0.9993},{"series":"(8,4)-dysect","log2m":20.06,"load":0.99932},{"series":"(8,4)-dysect","log2m":20.1,"load":0.99925},{"series":"(8,4)-dysect","log2m":20.15,"load":0.99918},{"series":"(8,4)-dysect","log2m":20.2,"load":0.99917},{"series":"(8,4)-dysect","log2m":20.25,"load":0.9992},{"series":"(8,4)-dysect","log2m":20.3,"load":0.99912},{"series":"(8,4)-dysect","log2m":20.35,"load":0.99904},{"series":"(8,4)-dysect","log2m":20.4,"load":0.99906},{"series":"(8,4)-dysect","log2m":20.45,"load":0.99912},{"series":"(8,4)-dysect","log2m":20.5,"load":0.99906},{"series":"(8,4)-dysect","log2m":20.55,"load":0.99903},{"series":"(8,4)-dysect","log2m":20.6,"load":0.99912},{"series":"(8,4)-dysect","log2m":20.65,"load":0.99918},{"series":"(8,4)-dysect","log2m":20.7,"load":0.99917},{"series":"(8,4)-dysect","log2m":20.75,"load":0.99912},{"series":"(8,4)-dysect","log2m":20.8,"load":0.99922},{"series":"(8,4)-dysect","log2m":20.85,"load":0.99928},{"series":"(8,4)-dysect","log2m":20.9,"load":0.99927},{"series":"(8,4)-dysect","log2m":20.95,"load":0.99925},{"series":"(8,4)-dysect","log2m":21,"load":0.99935},
{"series":"(8,4)-dysect","log2m":21.05,"load":0.99935},{"series":"(8,4)-dysect","log2m":21.1,"load":0.99939},{"series":"(8,4)-dysect","log2m":21.15,"load":0.99935},{"series":"(8,4)-dysect","log2m":21.2,"load":0.99942},{"series":"(8,4)-dysect","log2m":21.25,"load":0.99946},{"series":"(8,4)-dysect","log2m":21.3,"load":0.99944},{"series":"(8,4)-dysect","log2m":21.35,"load":0.9994},{"series":"(8,4)-dysect","log2m":21.4,"load":0.99947},{"series":"(8,4)-dysect","log2m":21.45,"load":0.9995},{"series":"(8,4)-dysect","log2m":21.5,"load":0.99951},{"series":"(8,4)-dysect","log2m":21.55,"load":0.99948},{"series":"(8,4)-dysect","log2m":21.6,"load":0.99956},{"series":"(8,4)-dysect","log2m":21.65,"load":0.99959},{"series":"(8,4)-dysect","log2m":21.7,"load":0.9996},{"series":"(8,4)-dysect","log2m":21.75,"load":0.99955},{"series":"(8,4)-dysect","log2m":21.8,"load":0.99962},{"series":"(8,4)-dysect","log2m":21.85,"load":0.99966},{"series":"(8,4)-dysect","log2m":21.9,"load":0.99969},{"series":"(8,4)-dysect","log2m":21.95,"load":0.99971},{"series":"(8,4)-dysect","log2m":22,"load":0.99975},
{"series":"(8,4)-dysect","log2m":22.05,"load":0.99962},{"series":"(8,4)-dysect","log2m":22.08,"load":0.99958},{"series":"(8,4)-dysect","log2m":22.118,"load":0.99956},{"series":"(8,4)-dysect","log2m":22.18,"load":0.99953},{"series":"(8,4)-dysect","log2m":22.237,"load":0.99951},{"series":"(8,4)-dysect","log2m":22.27,"load":0.99948},{"series":"(8,4)-dysect","log2m":22.3,"load":0.99953},{"series":"(8,4)-dysect","log2m":22.355,"load":0.99956},{"series":"(8,4)-dysect","log2m":22.434,"load":0.99967},{"series":"(8,4)-dysect","log2m":22.47,"load":0.99966},{"series":"(8,4)-dysect","log2m":22.5,"load":0.99971},{"series":"(8,4)-dysect","log2m":22.56,"load":0.99975},{"series":"(8,4)-dysect","log2m":22.63,"load":0.99977},{"series":"(8,4)-dysect","log2m":22.7,"load":0.99979},{"series":"(8,4)-dysect","log2m":22.73,"load":0.99981},{"series":"(8,4)-dysect","log2m":22.76,"load":0.99979},{"series":"(8,4)-dysect","log2m":22.83,"load":0.99979},{"series":"(8,4)-dysect","log2m":22.86,"load":0.99977},{"series":"(8,4)-dysect","log2m":22.9,"load":0.99977},{"series":"(8,4)-dysect","log2m":22.98,"load":0.99973},{"series":"(8,4)-dysect","log2m":23,"load":0.99973},
{"series":"(8,4)-dysect","log2m":23.06,"load":0.9996},{"series":"(8,4)-dysect","log2m":23.09,"load":0.99963},{"series":"(8,4)-dysect","log2m":23.13,"load":0.9996},{"series":"(8,4)-dysect","log2m":23.17,"load":0.99956},{"series":"(8,4)-dysect","log2m":23.217,"load":0.9996},{"series":"(8,4)-dysect","log2m":23.3,"load":0.99965},{"series":"(8,4)-dysect","log2m":23.36,"load":0.99968},{"series":"(8,4)-dysect","log2m":23.414,"load":0.99969},{"series":"(8,4)-dysect","log2m":23.46,"load":0.99966},{"series":"(8,4)-dysect","log2m":23.5,"load":0.99969},{"series":"(8,4)-dysect","log2m":23.55,"load":0.99972},{"series":"(8,4)-dysect","log2m":23.611,"load":0.99971},{"series":"(8,4)-dysect","log2m":23.65,"load":0.99969},{"series":"(8,4)-dysect","log2m":23.7,"load":0.99971},{"series":"(8,4)-dysect","log2m":23.75,"load":0.99973},{"series":"(8,4)-dysect","log2m":23.808,"load":0.99971},{"series":"(8,4)-dysect","log2m":23.85,"load":0.99969},{"series":"(8,4)-dysect","log2m":23.9,"load":0.99971},{"series":"(8,4)-dysect","log2m":23.95,"load":0.99972},{"series":"(8,4)-dysect","log2m":24,"load":0.99971}
]
},
"resolve": {"axis": {"y": "independent"}},
"layer": [
{
"data": {"name": "refs"},
"transform": [{"calculate": "1.002 - datum.load", "as": "shift"}],
"mark": {"type": "rule", "strokeWidth": 1.3, "opacity": 0.75},
"encoding": {
"y": {"field": "shift", "type": "quantitative",
"scale": {"type": "log", "domain": [0.0016392, 0.12424], "reverse": true, "nice": false},
"axis": {"orient": "left", "values": [0.004,0.005,0.006,0.007,0.008,0.009,0.01,0.011,0.022,0.032,0.042,0.052,0.062,0.072,0.082,0.092], "grid": true, "gridColor": "#ebebeb", "gridWidth": 0.9, "labels": false, "ticks": false, "domain": false, "title": null}},
"color": {"field": "series", "type": "nominal"},
"strokeDash": {"field": "kind", "type": "nominal", "scale": {"domain": ["min","max"], "range": [[9,6],[10,4,3,4]]}, "legend": null}
}
},
{
"data": {"name": "curves"},
"transform": [{"calculate": "1.002 - datum.load", "as": "shift"}],
"mark": {"type": "line", "strokeWidth": 1, "clip": true},
"encoding": {
"x": {"field": "log2m", "type": "quantitative",
"scale": {"domain": [17.696, 24.347], "nice": false, "zero": false},
"axis": {"values": [18,19,20,21,22,23,24],
"labelExpr": "datum.value == 18 ? '2¹⁸' : datum.value == 19 ? '2¹⁹' : datum.value == 20 ? '2²⁰' : datum.value == 21 ? '2²¹' : datum.value == 22 ? '2²²' : datum.value == 23 ? '2²³' : '2²⁴'",
"grid": true, "gridColor": "#dedede", "gridWidth": 1.3, "domain": false,
"tickColor": "#b3b3b3", "tickSize": 7, "tickWidth": 1.2,
"labelFontSize": 20, "labelColor": "#4d4d4d", "labelFont": "DejaVu Serif", "labelBaseline": "alphabetic", "labelPadding": 20, "labelFlush": false,
"title": "capacity 𝑚", "titleFont": "'Liberation Serif', 'DejaVu Serif'", "titleFontSize": 25, "titleFontWeight": "normal", "titleColor": "black", "titleBaseline": "alphabetic", "titleY": 54, "titleX": 281}},
"y": {"field": "shift", "type": "quantitative",
"axis": {"orient": "left", "values": [0.002, 0.003, 0.012, 0.102], "labelExpr": "format(1.002 - datum.value, '.4~g')",
"grid": true, "gridColor": "#dedede", "gridWidth": 1.3, "domain": false,
"tickColor": "#b3b3b3", "tickSize": 7, "tickWidth": 1.2,
"labelFontSize": 25, "labelColor": "#4d4d4d", "labelFont": "'Liberation Serif', 'DejaVu Serif'", "labelPadding": 7,
"title": "max load δₘₐₓ", "titleFont": "'Liberation Serif', 'DejaVu Serif'", "titleFontSize": 25, "titleFontWeight": "normal", "titleColor": "black", "titleAngle": 270, "titleX": -80, "titleY": 230, "titleAlign": "center", "titleBaseline": "alphabetic"}},
"color": {"field": "series", "type": "nominal",
"scale": {"domain": ["(4,2)-dysect","(4,3)-dysect","(4,4)-dysect","(8,2)-dysect","(8,3)-dysect","(8,4)-dysect"], "range": ["#14386b","#1f5fa8","#64a4e8","#1a6b30","#4aa562","#a3d7a5"]},
"legend": {"orient": "none", "legendX": 608, "legendY": 133, "title": null, "symbolType": "stroke", "symbolSize": 841, "symbolStrokeWidth": 1.5, "labelFontSize": 24, "labelFont": "'Liberation Serif', 'DejaVu Serif'", "labelColor": "black", "labelOffset": 19, "rowPadding": 9.3, "padding": 0}}
}
}
]
}
